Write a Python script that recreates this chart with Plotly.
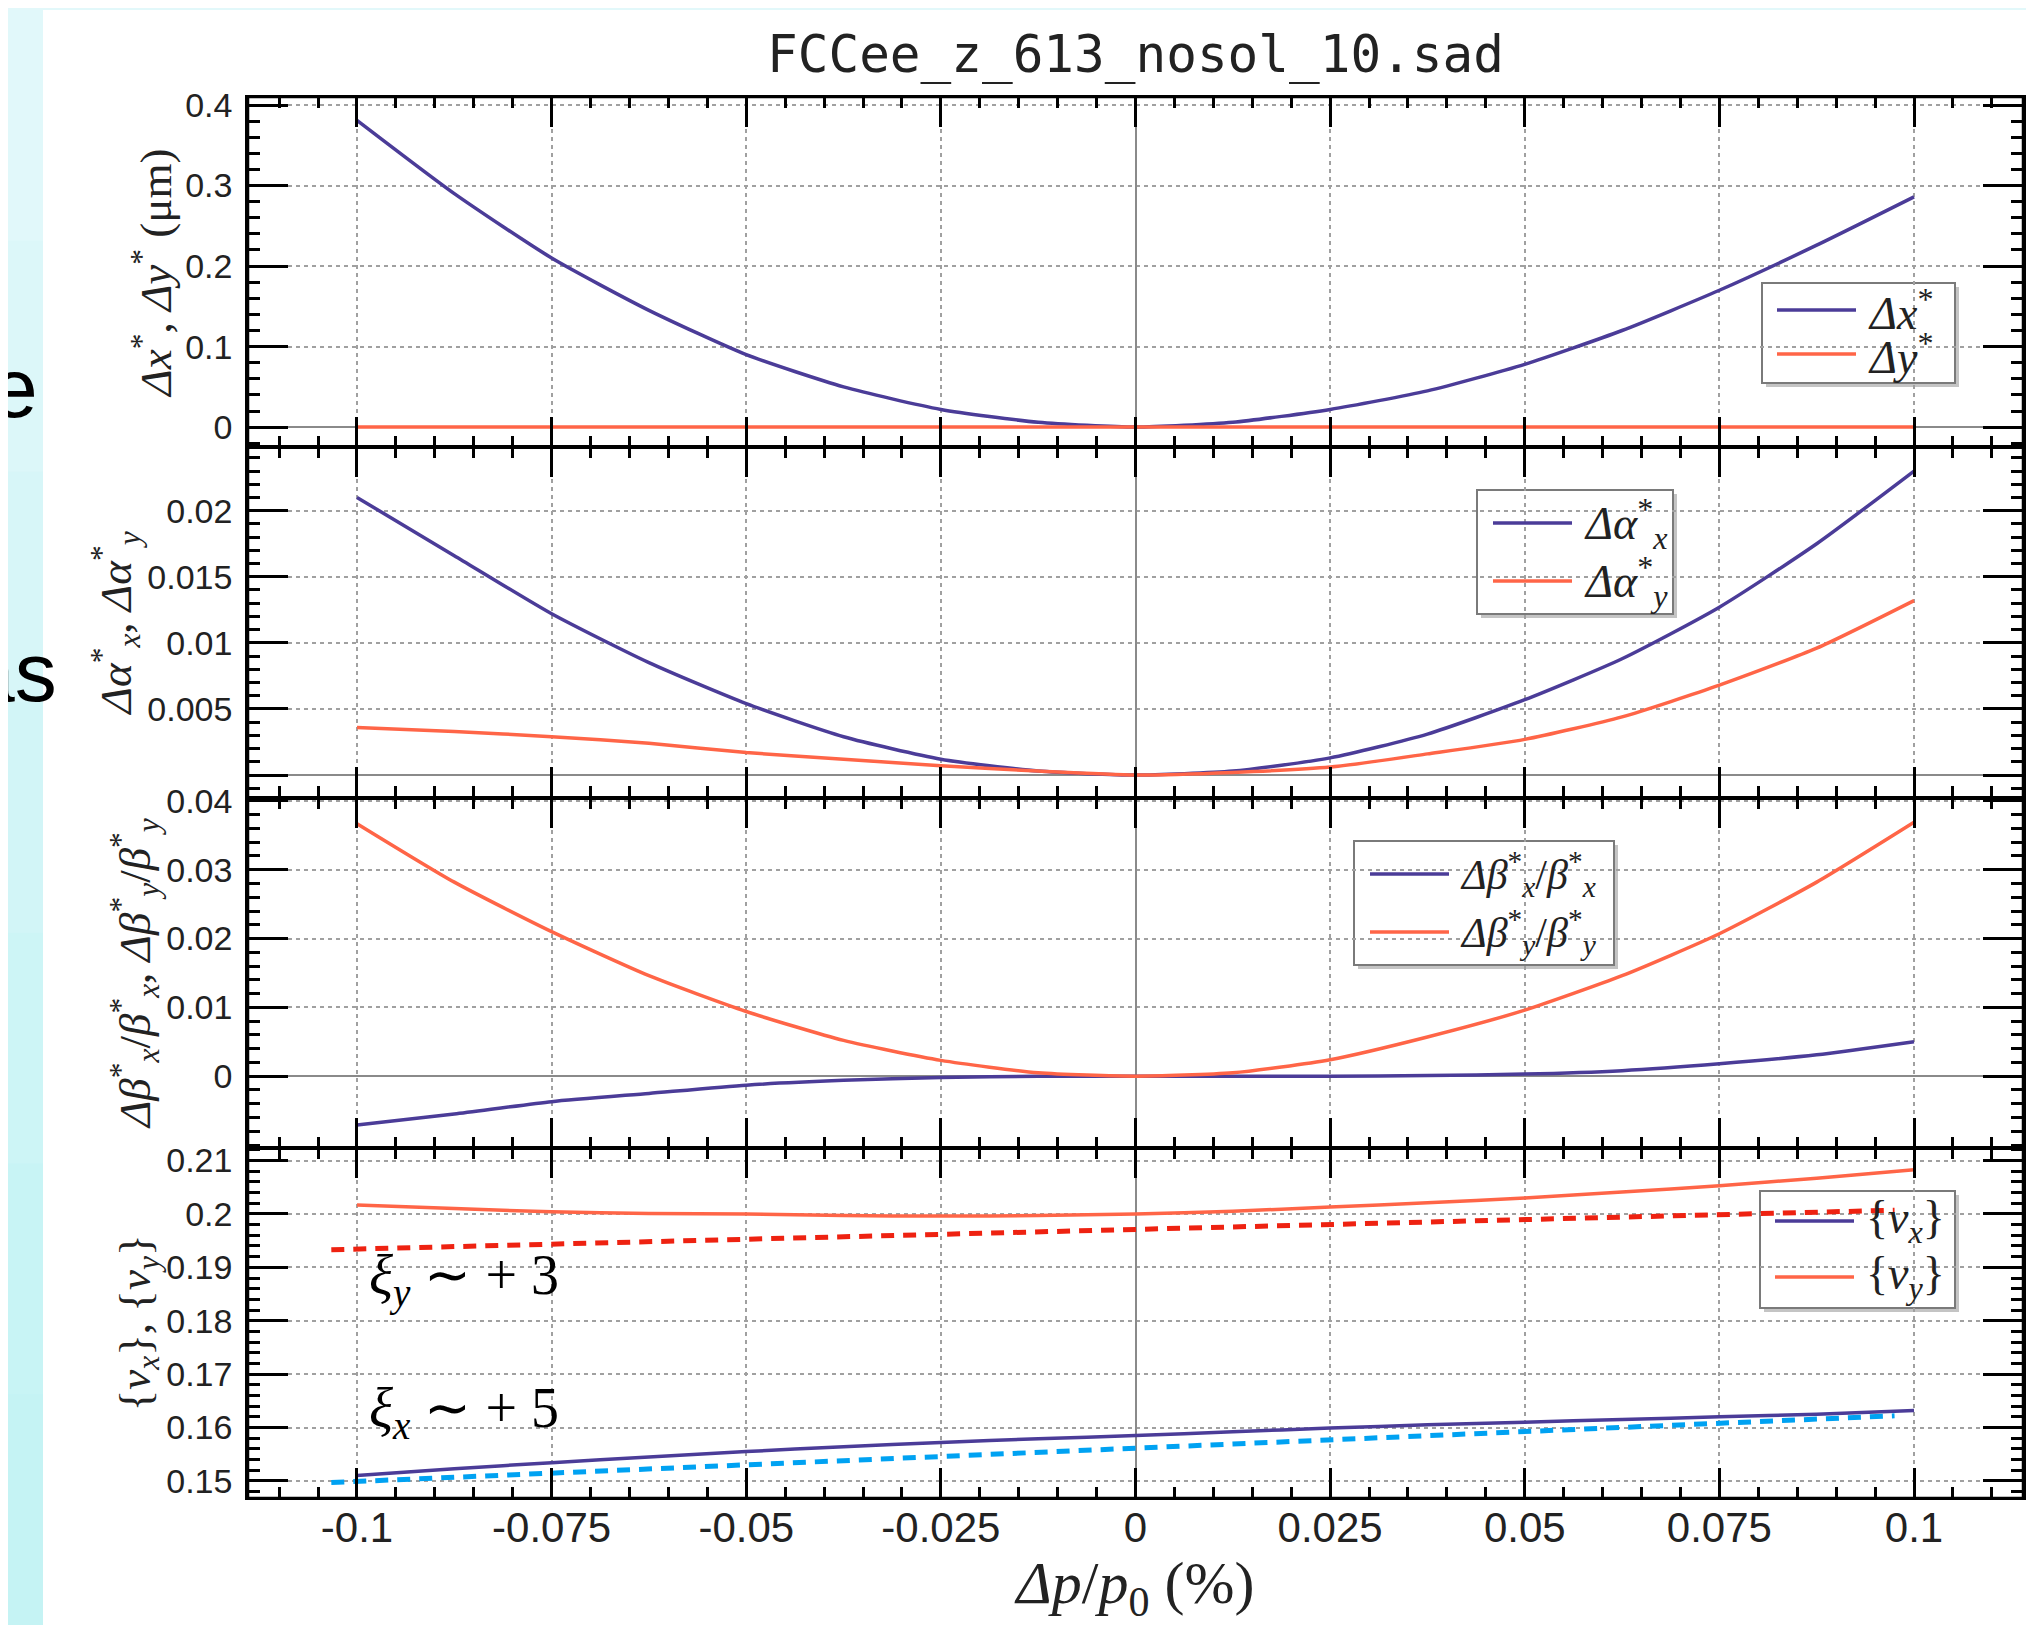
import plotly.graph_objects as go
from plotly.subplots import make_subplots

# ---------------- data ----------------
dp = [-0.1, -0.0875, -0.075, -0.0625, -0.05, -0.0375, -0.025, -0.0125, 0.0,
      0.0125, 0.025, 0.0375, 0.05, 0.0625, 0.075, 0.0875, 0.1]

dx_star = [0.381, 0.290, 0.210, 0.145, 0.090, 0.050, 0.022, 0.006, 0.0,
           0.006, 0.022, 0.045, 0.078, 0.120, 0.170, 0.226, 0.286]
dy_star = [0.0] * 17

dalpha_x = [0.0210, 0.0166, 0.0122, 0.0085, 0.0054, 0.0029, 0.0012, 0.0003, 0.0,
            0.0003, 0.0013, 0.0031, 0.0057, 0.0088, 0.0127, 0.0175, 0.0230]
dalpha_y = [0.0036, 0.0033, 0.0029, 0.0024, 0.0017, 0.0012, 0.0007, 0.0003, 0.0,
            0.0002, 0.0006, 0.0016, 0.0027, 0.0044, 0.0068, 0.0096, 0.0132]

dbeta_x = [-0.0071, -0.0055, -0.0037, -0.0025, -0.0013, -0.0006, -0.0002, 0.0, 0.0,
           0.0, 0.0, 0.0001, 0.0003, 0.0008, 0.0018, 0.0031, 0.0050]
dbeta_y = [0.0367, 0.0282, 0.0210, 0.0146, 0.0094, 0.0052, 0.0023, 0.0005, 0.0,
           0.0005, 0.0024, 0.0057, 0.0096, 0.0146, 0.0207, 0.0282, 0.0369]

nu_x = [0.1510, 0.1523, 0.1534, 0.1545, 0.1555, 0.1564, 0.1572, 0.1579, 0.1585,
        0.1592, 0.1599, 0.1605, 0.1610, 0.1615, 0.1620, 0.1625, 0.1632]
nu_y = [0.2017, 0.2010, 0.2004, 0.2001, 0.2000, 0.1997, 0.1996, 0.1997, 0.2000,
        0.2005, 0.2013, 0.2021, 0.2030, 0.2041, 0.2053, 0.2067, 0.2083]

# chromaticity guide lines (end points)
xi_dp = [-0.1033, 0.0975]
xi_y_line = [0.1933, 0.2007]
xi_x_line = [0.1497, 0.1622]

x_tickvals = [-0.1, -0.075, -0.05, -0.025, 0, 0.025, 0.05, 0.075, 0.1]
x_ticktext = ["-0.1", "-0.075", "-0.05", "-0.025", "0", "0.025", "0.05", "0.075", "0.1"]
y1_tickvals = [0, 0.1, 0.2, 0.3, 0.4]
y1_ticktext = ["0", "0.1", "0.2", "0.3", "0.4"]
y2_tickvals = [0, 0.005, 0.01, 0.015, 0.02]
y2_ticktext = ["", "0.005", "0.01", "0.015", "0.02"]
y3_tickvals = [0, 0.01, 0.02, 0.03, 0.04]
y3_ticktext = ["0", "0.01", "0.02", "0.03", "0.04"]
y4_tickvals = [0.15, 0.16, 0.17, 0.18, 0.19, 0.2, 0.21]
y4_ticktext = ["0.15", "0.16", "0.17", "0.18", "0.19", "0.2", "0.21"]

name_dx = "<i>Δx</i><sup>*</sup>"
name_dy = "<i>Δy</i><sup>*</sup>"
name_ax = "<i>Δα</i><sup>*</sup><sub><i>x</i></sub>"
name_ay = "<i>Δα</i><sup>*</sup><sub><i>y</i></sub>"
name_bx = "<i>Δβ</i><sup>*</sup><sub><i>x</i></sub>/<i>β</i><sup>*</sup><sub><i>x</i></sub>"
name_by = "<i>Δβ</i><sup>*</sup><sub><i>y</i></sub>/<i>β</i><sup>*</sup><sub><i>y</i></sub>"
name_nx = "{<i>ν</i><sub><i>x</i></sub>}"
name_ny = "{<i>ν</i><sub><i>y</i></sub>}"

# ---------------- styling ----------------
PURPLE = "#4b3c98"
ORANGE = "#ff6547"
RED_D = "#ee2211"
BLUE_D = "#00a2f2"
SERIF = "Liberation Serif, Times New Roman, serif"
SANS = "Liberation Sans, Arial, sans-serif"
TXT = "#222222"

# reference frame is 2034x1625; the page body adds an 8 px offset
OFF = 8
W, H = 2034 - OFF, 1625 - OFF
ML, MR, MT, MB = 248 - OFF, 11, 97 - OFF, 127
PW, PH = W - ML - MR, H - MT - MB

def px_x(p):   # reference pixel -> paper coordinate
    return (p - OFF - ML) / PW

def px_y(p):
    return 1 - (p - OFF - MT) / PH

fig = make_subplots(rows=4, cols=1, shared_xaxes=True, vertical_spacing=0)

def add_line(x, y, row, name, color, dash=None, width=3.5, shape="spline"):
    fig.add_trace(go.Scatter(x=x, y=y, mode="lines", name=name, showlegend=False,
                             line=dict(color=color, width=width, dash=dash, shape=shape, smoothing=0.6)),
                  row=row, col=1)

add_line(dp, dx_star, 1, name_dx, PURPLE)
add_line(dp, dy_star, 1, name_dy, ORANGE)
add_line(dp, dalpha_x, 2, name_ax, PURPLE)
add_line(dp, dalpha_y, 2, name_ay, ORANGE)
add_line(dp, dbeta_x, 3, name_bx, PURPLE)
add_line(dp, dbeta_y, 3, name_by, ORANGE)
add_line(dp, nu_x, 4, name_nx, PURPLE)
add_line(dp, nu_y, 4, name_ny, ORANGE)
add_line(xi_dp, xi_y_line, 4, "ξy fit", RED_D, dash="13px,9px", width=5, shape="linear")
add_line(xi_dp, xi_x_line, 4, "ξx fit", BLUE_D, dash="13px,9px", width=5, shape="linear")

grid_common = dict(ticks="inside", tickcolor="black", tickwidth=3,
                   showgrid=True, gridcolor="#a0a0a0", gridwidth=1.5, griddash="4px,4px",
                   automargin=False, showline=True, linecolor="black", mirror="allticks")

yspecs = [
    (1, [-0.025, 0.41], y1_tickvals, y1_ticktext, 0.02,
     "<i>Δx</i><sup>*</sup>, <i>Δy</i><sup>*</sup> (μm)", True),
    (2, [-0.0017, 0.0248], y2_tickvals, y2_ticktext, 0.001,
     "<i>Δα</i><sup>*</sup><sub><i>x</i></sub>, <i>Δα</i><sup>*</sup><sub><i>y</i></sub>", True),
    (3, [-0.0104, 0.0405], y3_tickvals, y3_ticktext, 0.002,
     "<i>Δβ</i><sup>*</sup><sub><i>x</i></sub>/<i>β</i><sup>*</sup><sub><i>x</i></sub>, "
     "<i>Δβ</i><sup>*</sup><sub><i>y</i></sub>/<i>β</i><sup>*</sup><sub><i>y</i></sub>", True),
    (4, [0.1468, 0.2124], y4_tickvals, y4_ticktext, 0.002,
     "{<i>ν</i><sub><i>x</i></sub>}, {<i>ν</i><sub><i>y</i></sub>}", False),
]
for row, rng, tv, tt, mdt, title, zl in yspecs:
    fig.update_yaxes(row=row, col=1, range=rng, tickmode="array", tickvals=tv, ticktext=tt,
                     ticklen=40, linewidth=2.5,
                     zeroline=zl, zerolinecolor="#8a8a8a", zerolinewidth=1.5,
                     tickfont=dict(family=SANS, size=34, color=TXT),
                     ticklabelstandoff=6,
                     minor=dict(ticks="inside", ticklen=12, tickwidth=2.5, tickcolor="black",
                                tickmode="linear", tick0=0, dtick=mdt, showgrid=False),
                     title=dict(text=title, font=dict(family=SERIF, size=45, color=TXT), standoff=0),
                     **grid_common)

for row in range(1, 5):
    fig.update_xaxes(row=row, col=1, range=[-0.114, 0.114], tickmode="array",
                     tickvals=x_tickvals, ticktext=x_ticktext, ticklen=30, linewidth=2.2,
                     zeroline=True, zerolinecolor="#8a8a8a", zerolinewidth=1.5,
                     showticklabels=(row == 4),
                     tickfont=dict(family=SANS, size=42, color=TXT),
                     minor=dict(ticks="inside", ticklen=11, tickwidth=2.5, tickcolor="black",
                                tickmode="linear", tick0=0, dtick=0.005, showgrid=False),
                     **grid_common)
fig.update_xaxes(row=4, col=1, ticklabelstandoff=-9,
                 title=dict(text="<i>Δp</i>/<i>p</i><sub>0</sub> (%)",
                            font=dict(family=SERIF, size=60, color=TXT), standoff=15))

shapes = []
annotations = []

# ---- background: cyan slide with white figure panel ----
strip_cols = ["#e1f8fa", "#dcf7f9", "#d7f6f8", "#d2f5f7", "#cdf5f6", "#c8f4f5", "#c5f3f4"]
n = len(strip_cols)
for i, c in enumerate(strip_cols):
    y0 = 10 + (1625 - 10) * i / n
    y1 = 10 + (1625 - 10) * (i + 1) / n
    shapes.append(dict(type="rect", xref="paper", yref="paper", layer="below",
                       x0=px_x(0), x1=px_x(43), y0=px_y(y1 + 1), y1=px_y(y0),
                       line=dict(width=0), fillcolor=c))
shapes.append(dict(type="rect", xref="paper", yref="paper", layer="below",
                   x0=px_x(43), x1=px_x(2040), y0=px_y(1630), y1=px_y(10),
                   line=dict(width=0), fillcolor="white"))

# ---- outer frame ----
shapes.append(dict(type="rect", xref="paper", yref="paper", layer="above",
                   x0=0, x1=1, y0=0, y1=1, line=dict(color="black", width=2.5)))

# ---- legends (boxes, samples, labels) ----
legends = [
    # box x0, y0, x1, y1, sample x0, x1, text x, rows, entries, font size
    (1762, 283, 1955, 383, 1777, 1856, 1866, [310, 354], [(name_dx, PURPLE), (name_dy, ORANGE)], 46),
    (1477, 490, 1673, 614, 1493, 1572, 1582, [523, 581], [(name_ax, PURPLE), (name_ay, ORANGE)], 46),
    (1354, 841, 1614, 965, 1370, 1449, 1458, [874, 932], [(name_bx, PURPLE), (name_by, ORANGE)], 42),
    (1760, 1191, 1955, 1308, 1775, 1854, 1864, [1221, 1277], [(name_nx, PURPLE), (name_ny, ORANGE)], 46),
]
for bx0, by0, bx1, by1, sx0, sx1, tx, rows, entries, fs in legends:
    shapes.append(dict(type="rect", xref="paper", yref="paper", layer="between",
                       x0=px_x(bx0 + 4), x1=px_x(bx1 + 4), y0=px_y(by1 + 4), y1=px_y(by0 + 4),
                       line=dict(width=0), fillcolor="#c4c4c4"))
    shapes.append(dict(type="rect", xref="paper", yref="paper", layer="between",
                       x0=px_x(bx0), x1=px_x(bx1), y0=px_y(by1), y1=px_y(by0),
                       line=dict(color="#7a7a7a", width=2), fillcolor="white"))
    for ry, (label, col) in zip(rows, entries):
        shapes.append(dict(type="line", xref="paper", yref="paper", layer="above",
                           x0=px_x(sx0), x1=px_x(sx1), y0=px_y(ry), y1=px_y(ry),
                           line=dict(color=col, width=3.5)))
        annotations.append(dict(x=px_x(tx), y=px_y(ry), xref="paper", yref="paper",
                                xanchor="left", yanchor="middle", showarrow=False,
                                text=label, font=dict(family=SERIF, size=fs, color=TXT)))

# ---- chromaticity labels ----
annotations.append(dict(x=-0.0987, y=0.1878, xref="x4", yref="y4", xanchor="left", yanchor="middle",
                        text="<i>ξ</i><sub><i>y</i></sub> ∼ + 3", showarrow=False,
                        font=dict(family=SERIF, size=56, color="black")))
annotations.append(dict(x=-0.0987, y=0.1629, xref="x4", yref="y4", xanchor="left", yanchor="middle",
                        text="<i>ξ</i><sub><i>x</i></sub> ∼ + 5", showarrow=False,
                        font=dict(family=SERIF, size=56, color="black")))

# ---- slide text fragments at left edge ----
annotations.append(dict(x=px_x(40), y=px_y(388), xref="paper", yref="paper", xanchor="right",
                        yanchor="middle", text="e", showarrow=False,
                        font=dict(family=SANS, size=84, color="black")))
annotations.append(dict(x=px_x(59), y=px_y(672), xref="paper", yref="paper", xanchor="right",
                        yanchor="middle", text="as", showarrow=False,
                        font=dict(family=SANS, size=84, color="black")))

fig.update_layout(
    width=W, height=H,
    margin=dict(l=ML, r=MR, t=MT, b=MB, pad=0),
    paper_bgcolor="#e2f8fa", plot_bgcolor="white",
    showlegend=False,
    shapes=shapes, annotations=annotations,
    title=dict(text="FCCee_z_613_nosol_10.sad", x=0.5, xref="paper", xanchor="center",
               y=1 - (54 - OFF) / H, yref="container", yanchor="middle",
               font=dict(family="DejaVu Sans Mono", size=51, color=TXT)),
)

fig.write_html("out.html")
